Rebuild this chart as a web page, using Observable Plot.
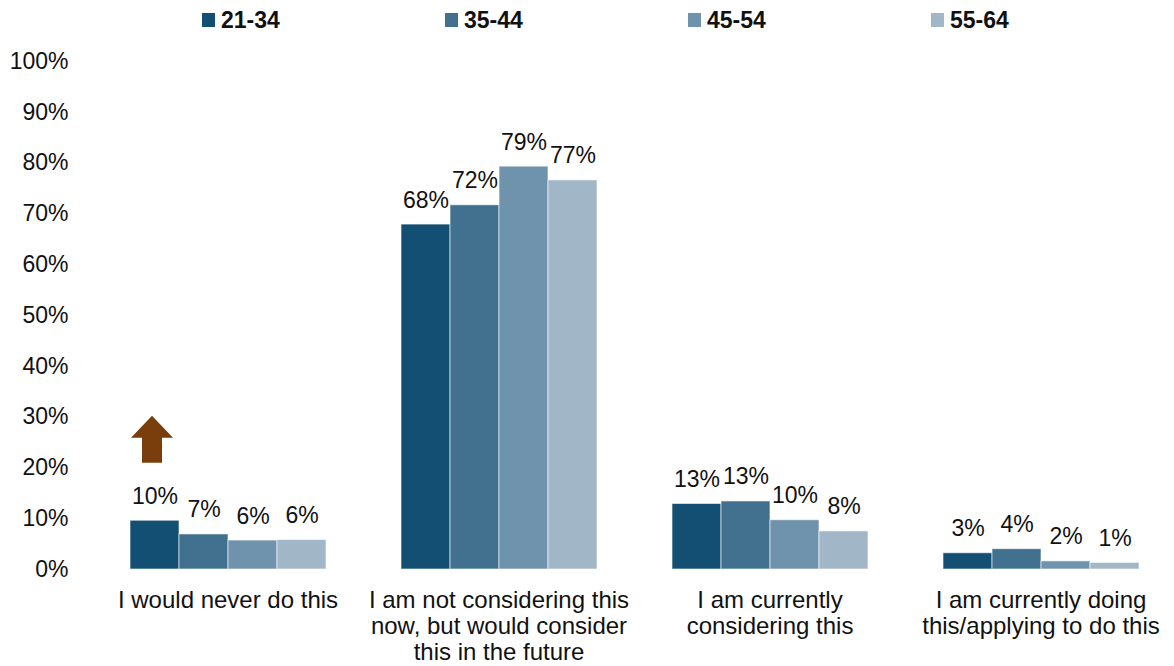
<!DOCTYPE html>
<html>
<head>
<meta charset="utf-8">
<script src="https://cdn.jsdelivr.net/npm/d3@7"></script>
<script src="https://cdn.jsdelivr.net/npm/@observablehq/plot@0.6"></script>
<style>
  html, body { margin: 0; padding: 0; background: #fff; }
  body { width: 1174px; height: 666px; overflow: hidden; font-family: "Liberation Sans", Arial, sans-serif; }
  #legend { position: relative; height: 40px; display: flex; padding-left: 202px; box-sizing: border-box; }
  .item { width: 256px; display: flex; align-items: center; height: 40px; margin-top: 0px; }
  .sw { width: 13px; height: 14px; margin-right: 6px; }
  .lab { font-weight: bold; font-size: 23px; color: #111; }
</style>
</head>
<body>
<div id="legend"></div>
<div id="chart"></div>
<script>
const categories = [
  "I would never do this",
  "I am not considering this now, but would consider this in the future",
  "I am currently considering this",
  "I am currently doing this/applying to do this"
];
const categoryLabels = [
  "I would never do this",
  "I am not considering this\nnow, but would consider\nthis in the future",
  "I am currently\nconsidering this",
  "I am currently doing\nthis/applying to do this"
];
const ages = ["21-34", "35-44", "45-54", "55-64"];
const colors = ["#134f73", "#41718f", "#6f93ac", "#a1b7c7"];
const values2134 = [9.6, 67.9, 12.9, 3.2];
const values3544 = [6.9, 71.7, 13.4, 4.0];
const values4554 = [5.7, 79.3, 9.7, 1.6];
const values5564 = [5.8, 76.6, 7.5, 1.3];
const yTicks = [0, 10, 20, 30, 40, 50, 60, 70, 80, 90, 100];
const arrowMarker = [{group: categories[0], age: ages[0], from: 21}];

const series = [values2134, values3544, values4554, values5564];
const data = [];
categories.forEach((c, ci) => ages.forEach((a, ai) => data.push({group: c, age: a, value: series[ai][ci]})));

// legend
const legend = document.getElementById("legend");
ages.forEach((a, i) => {
  const it = document.createElement("div"); it.className = "item";
  const sw = document.createElement("div"); sw.className = "sw"; sw.style.background = colors[i];
  const lb = document.createElement("span"); lb.className = "lab"; lb.textContent = a;
  it.appendChild(sw); it.appendChild(lb); legend.appendChild(it);
});

// block arrow symbol
const blockArrow = {
  draw(ctx) {
    const l = 47, hl = 22, hw = 21, sw = 10;
    ctx.moveTo(-sw, 0);
    ctx.lineTo(-sw, -(l - hl));
    ctx.lineTo(-hw, -(l - hl));
    ctx.lineTo(0, -l);
    ctx.lineTo(hw, -(l - hl));
    ctx.lineTo(sw, -(l - hl));
    ctx.lineTo(sw, 0);
    ctx.closePath();
  }
};

const chart = Plot.plot({
  width: 1174,
  height: 626,
  marginTop: 21,
  marginBottom: 97,
  marginLeft: 100,
  marginRight: 6,
  style: {fontFamily: "'Liberation Sans', Arial, sans-serif", fontSize: "23px", color: "#111", background: "#fff"},
  fx: {domain: categories, paddingInner: 0.272, paddingOuter: 0.1, axis: null, label: null},
  x: {domain: ages, padding: 0, axis: null},
  y: {domain: [0, 100], ticks: yTicks, tickFormat: d => d + "%", tickSize: 0, tickPadding: 61, label: null},
  color: {domain: ages, range: colors},
  marks: [
    Plot.barY(data, {fx: "group", x: "age", y: "value", fill: "age", stroke: "#ffffff", strokeWidth: 1, strokeOpacity: 0.6}),
    Plot.text(data, {fx: "group", x: "age", y: "value", text: d => Math.round(d.value) + "%", lineAnchor: "bottom", dy: -17, fontSize: 23, fill: "#111"}),
    Plot.text(categories, {fx: d => d, text: (d, i) => categoryLabels[i], frameAnchor: "bottom", lineAnchor: "top", dy: 20, lineHeight: 1.09, fontSize: 24, fill: "#111"}),
    Plot.dot(arrowMarker, {fx: "group", x: "age", y: "from", dx: -3, symbol: blockArrow, fill: "#7a3e0c", stroke: "none", r: 10})
  ]
});
document.getElementById("chart").appendChild(chart);
</script>
</body>
</html>
